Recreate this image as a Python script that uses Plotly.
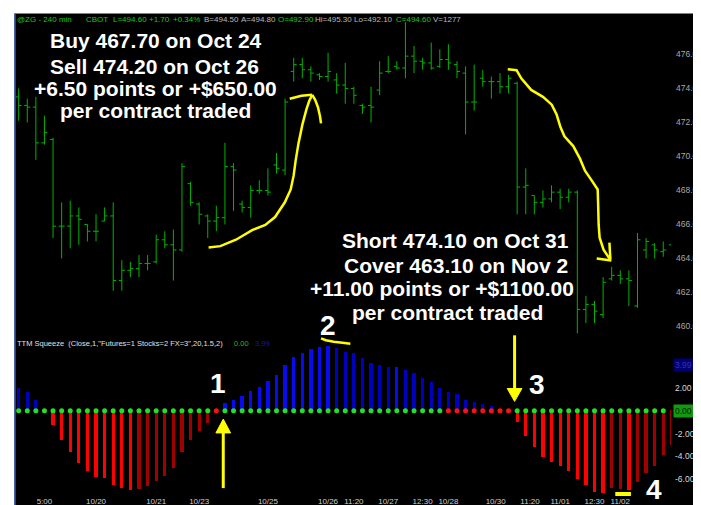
import plotly.graph_objects as go

# ---------------- data ----------------
BAR_INDEX = list(range(77))

OPEN = [473.5, 473.0, 472.9, 470.8, 471.0, 465.9, 465.9, 466.5, 466.0, 465.6,
        466.2, 466.5, 462.7, 463.3, 463.4, 463.7, 463.8, 465.1, 464.8, 464.5,
        468.4, 467.2, 466.5, 466.2, 466.4, 469.4, 467.2, 467.0, 468.0, 468.0,
        469.5, 469.2, 475.0, 475.4, 475.1, 474.8, 474.7, 474.5, 474.2, 474.0,
        473.0, 473.0, 473.9, 475.0, 475.3, 475.2, 475.9, 475.6, 475.5, 475.3,
        475.7, 475.4, 474.9, 473.2, 474.6, 474.4, 474.4, 474.1, 474.3, 468.2,
        467.7, 467.3, 467.5, 467.9, 467.6, 467.9, 461.0, 461.3, 460.7, 462.8,
        463.0, 462.8, 461.2, 464.5, 464.8, 464.4, 464.8]

HIGH = [474.0, 473.4, 473.5, 472.4, 471.1, 467.3, 467.4, 467.0, 466.0, 466.6,
        467.0, 467.3, 463.9, 463.8, 464.2, 464.2, 465.4, 465.6, 465.7, 469.6,
        468.5, 467.3, 466.6, 467.1, 470.8, 469.6, 467.4, 468.3, 468.6, 469.3,
        470.2, 473.4, 475.8, 475.8, 475.3, 474.9, 476.1, 474.9, 475.5, 474.1,
        473.1, 474.1, 475.6, 475.9, 475.6, 477.9, 476.5, 475.8, 476.7, 476.3,
        476.6, 475.6, 475.3, 475.4, 475.1, 474.7, 474.9, 474.8, 474.4, 469.3,
        467.7, 468.0, 468.3, 468.1, 468.1, 468.0, 461.8, 461.5, 462.9, 463.5,
        463.3, 463.3, 465.5, 465.2, 464.9, 465.0, 464.9]

LOW = [472.1, 472.0, 469.8, 470.7, 465.2, 464.0, 464.6, 464.8, 465.0, 465.0,
       466.2, 462.1, 462.1, 462.9, 462.9, 463.3, 463.7, 464.6, 462.7, 464.4,
       467.1, 466.0, 465.2, 465.6, 466.0, 466.8, 466.7, 466.4, 467.8, 467.7,
       469.0, 468.9, 474.4, 474.6, 474.4, 474.5, 474.4, 473.7, 473.1, 473.1,
       472.5, 472.0, 473.6, 474.9, 475.1, 474.6, 474.9, 475.1, 475.1, 475.2,
       475.1, 474.6, 471.3, 472.7, 474.1, 473.4, 473.7, 473.7, 466.6, 466.6,
       466.6, 467.0, 467.3, 466.9, 467.3, 459.6, 460.2, 460.2, 460.5, 462.7,
       462.5, 461.2, 461.1, 464.0, 464.0, 464.1, 464.7]

CLOSE = [473.0, 472.9, 470.8, 471.4, 465.9, 465.9, 466.5, 466.3, 465.6, 465.6,
         466.5, 462.7, 463.3, 463.4, 463.7, 463.7, 465.1, 464.8, 464.5, 469.4,
         467.3, 466.6, 466.2, 466.4, 469.4, 469.2, 467.0, 468.0, 468.0, 467.9,
         469.3, 473.2, 475.4, 475.1, 474.9, 474.7, 475.0, 474.2, 474.0, 473.6,
         472.9, 472.9, 474.9, 475.0, 475.2, 475.9, 475.6, 475.5, 475.2, 475.7,
         475.5, 475.0, 473.2, 473.2, 474.4, 474.4, 474.1, 474.6, 468.2, 468.3,
         467.3, 467.5, 467.9, 467.6, 467.9, 461.0, 461.3, 460.9, 462.6, 463.0,
         462.8, 462.7, 465.1, 465.0, 464.5, 464.5, 464.8]

MOMENTUM = [1.93, 1.65, 0.96, 0.0, -1.25, -2.55, -3.6, -4.6, -5.3, -5.8,
            -5.9, -6.5, -6.8, -7.0, -6.85, -6.65, -6.2, -5.7, -5.0, -3.6,
            -2.6, -1.8, -1.1, 0.0, 0.62, 0.96, 1.3, 1.73, 2.04, 2.58,
            3.06, 3.97, 4.65, 5.05, 5.36, 5.56, 5.67, 5.5, 5.1, 5.0,
            4.6, 4.14, 3.97, 3.8, 3.8, 3.55, 3.3, 2.84, 2.5, 2.0,
            1.6, 1.42, 0.9, 0.74, 0.57, 0.4, 0.15, 0.0, -1.0, -2.27,
            -3.2, -4.1, -4.5, -4.9, -5.3, -6.0, -6.5, -7.1, -7.25, -6.8,
            -6.9, -7.0, -6.3, -5.5, -4.85, -3.9, -3.0]

# U = rising blue, V = falling blue, R = falling red, D = rising red
MOMENTUM_SHADE = "VVVV" + "R" * 10 + "D" * 10 + "U" * 13 + "V" * 7 + "U" + "V" * 13 + "R" * 11 + "DD" + "R" + "D" * 5
# g = squeeze off (green dot), r = squeeze on (red dot)
SQUEEZE_DOT = "g" * 23 + "r" + "g" * 26 + "r" * 8 + "g" * 18

X_TICK_POS = [3, 9, 16, 21, 29, 36, 39, 43, 47, 50, 55.5, 59.5, 63, 67, 70]
X_TICK_TEXT = ["5:00", "10/20", "10/21", "10/23", "10/25", "10/26", "11:20", "10/27",
               "12:30", "10/28", "10/30", "11:20", "11/01", "12:30", "11/02"]
PRICE_TICKS = [460, 462, 464, 466, 468, 470, 472, 474, 476]
MOM_TICKS = [2, -2, -4, -6]

# ---------------- styling ----------------
FONT = "Liberation Sans, Arial, sans-serif"
SHADE_COLORS = {"U": "#0a0af0", "V": "#0000c0", "R": "#ff0000", "D": "#a00000"}
DOT_COLORS = {"g": "#22e022", "r": "#ff1010"}
W, H = 701, 505
PL, PR, PT, PB = 8, 678, 7, 494  # plot area in pixels


def px(x):
    return (x - PL) / (PR - PL)


def py(y):
    return (PB - y) / (PB - PT)


fig = go.Figure()

fig.add_trace(go.Ohlc(
    x=BAR_INDEX, open=OPEN, high=HIGH, low=LOW, close=CLOSE,
    increasing=dict(line=dict(color="#00b400", width=1)),
    decreasing=dict(line=dict(color="#00b400", width=1)),
    tickwidth=0.35, xaxis="x", yaxis="y", hoverinfo="skip"))

fig.add_trace(go.Bar(
    x=BAR_INDEX, y=MOMENTUM, width=0.38,
    marker=dict(color=[SHADE_COLORS[c] for c in MOMENTUM_SHADE], line=dict(width=0)),
    xaxis="x2", yaxis="y2", hoverinfo="skip"))

fig.add_trace(go.Scatter(
    x=BAR_INDEX[:len(SQUEEZE_DOT)], y=[0] * len(SQUEEZE_DOT), mode="markers",
    marker=dict(size=5, color=[DOT_COLORS[c] for c in SQUEEZE_DOT], line=dict(width=0)),
    xaxis="x2", yaxis="y2", hoverinfo="skip"))

XRANGE = [-0.31, 75.9]
fig.update_layout(
    width=W, height=H, showlegend=False,
    margin=dict(l=PL, r=W - PR, t=PT, b=H - PB, pad=0),
    paper_bgcolor="black", plot_bgcolor="black",
    font=dict(family=FONT),
    bargap=0,
    xaxis=dict(domain=[0, 1], range=XRANGE, anchor="y", showticklabels=False,
               showgrid=False, zeroline=False, showline=False,
               rangeslider=dict(visible=False)),
    xaxis2=dict(domain=[0, 1], range=XRANGE, anchor="y2", showgrid=False,
                zeroline=False, showline=False, ticks="",
                tickvals=X_TICK_POS, ticktext=X_TICK_TEXT,
                tickfont=dict(size=8, color="#d0d0d0", family=FONT)),
    yaxis=dict(domain=[py(333), 1], range=[459.42, 478.32], side="right",
               anchor="x", showgrid=False, zeroline=False, showline=False, ticks="",
               ticklabelstandoff=4,
               tickvals=PRICE_TICKS, ticktext=["%.2f" % v for v in PRICE_TICKS],
               tickfont=dict(size=8.5, color="#a8a8a8", family=FONT)),
    yaxis2=dict(domain=[0, py(335)], range=[-7.37, 6.34], side="right",
                anchor="x2", showgrid=False, zeroline=False, showline=False, ticks="",
                ticklabelstandoff=3,
                tickvals=MOM_TICKS, ticktext=["%.2f" % v for v in MOM_TICKS],
                tickfont=dict(size=8.5, color="#d8d8d8", family=FONT)),
)

ann = []


def text(t, x, y, size, color, anchor="left", bold=False, **kw):
    ann.append(dict(text=("<b>%s</b>" % t) if bold else t, x=px(x), y=py(y),
                    xref="paper", yref="paper", xanchor=anchor, yanchor="middle",
                    showarrow=False, font=dict(size=size, color=color, family=FONT), **kw))


GREEN_TXT, GRAY_TXT = "#19c819", "#b8b8b8"
for t, x, c in [("@ZG - 240 min", 7, GREEN_TXT), ("CBOT", 78, GREEN_TXT),
                ("L=494.60", 105, GREEN_TXT), ("+1.70", 142, GREEN_TXT),
                ("+0.34%", 167, GREEN_TXT), ("B=494.50", 198, GRAY_TXT),
                ("A=494.80", 236, GRAY_TXT), ("O=492.90", 274, GREEN_TXT),
                ("Hi=495.30", 312, GRAY_TXT), ("Lo=492.10", 352, GRAY_TXT),
                ("C=494.60", 395, GREEN_TXT), ("V=1277", 433, GRAY_TXT)]:
    text(t, x, 12, 8, c)

text('TTM Squeeze\u00a0\u00a0(Close,1,"Futures=1 Stocks=2 FX=3",20,1.5,2)', 7, 340, 7.5, "#e0e0e0")
text("0.00", 229, 340, 7.5, "#10c010")
text("3.99", 250, 340, 7.5, "#1818a0")

# right-hand value boxes
ann.append(dict(text="0.00", x=px(680), y=py(409), xref="paper", yref="paper",
                xanchor="left", yanchor="middle", showarrow=False, bgcolor="#109a10",
                borderpad=1, font=dict(size=8.5, color="#001800", family=FONT)))
ann.append(dict(text="3.99", x=px(680), y=py(362.5), xref="paper", yref="paper",
                xanchor="left", yanchor="middle", showarrow=False, bgcolor="#000070",
                borderpad=1, font=dict(size=8.5, color="#3030c0", family=FONT)))

# trade descriptions
for t, x, y in [("Buy 467.70 on Oct 24", 151, 33), ("Sell 474.20 on Oct 26", 150, 59),
                ("+6.50 points or +$650.00", 151, 82), ("per contract traded", 151, 104),
                ("Short 474.10 on Oct 31", 457.5, 235.5), ("Cover 463.10 on Nov 2", 458, 261),
                ("+11.00 points or +$1100.00", 444, 284.5), ("per contract traded", 449, 308.5)]:
    text(t, x, y, 21, "white", anchor="center", bold=True)

for t, x, y in [("1", 215, 381), ("2", 327, 322), ("3", 541, 382), ("4", 660.5, 488)]:
    text(t, x, y, 28, "white", anchor="center", bold=True)

fig.update_layout(annotations=ann)

# ---------------- hand drawn marks / frame ----------------
YEL = "#ffff00"


def path(points, closed=False):
    s = "M " + " L ".join("%.5f,%.5f" % (px(a), py(b)) for a, b in points)
    return s + (" Z" if closed else "")


strokes = [
    [(205, 243), (217, 241.5), (233, 235), (250, 225), (263, 220), (273, 212), (283, 197),
     (289, 184), (292, 170), (294, 155), (297, 137), (301, 118), (305, 103), (308, 94), (311, 88)],
    [(311, 88), (300, 89), (288, 92)],
    [(311, 88), (314, 93), (317, 101), (319, 110), (320, 117)],
    [(511, 62), (520, 63), (525, 71.5), (535, 83), (547, 90), (556, 98), (561, 108), (565, 121),
     (569, 130), (578, 140), (585, 153), (590, 165), (597, 175), (603, 184), (603.5, 200),
     (604, 220), (605, 233), (609, 245), (615, 254)],
    [(615, 238), (616, 255)],
    [(602, 254), (617, 256)],
    [(320, 335), (325, 337), (333, 338.5), (342, 339.5), (350, 340.5)],
]
shapes = []
for s in strokes:
    shapes.append(dict(type="path", xref="paper", yref="paper", path=path(s),
                       line=dict(color=YEL, width=2.5), layer="above"))
shapes.append(dict(type="path", xref="paper", yref="paper", path=path([(621, 493), (637, 493)]),
                   line=dict(color=YEL, width=4), layer="above"))
# arrows at points 1 and 3
for x, y_top, y_base, y_end in [(220, 417, 431, 487), (518, 399, 386, 332)]:
    shapes.append(dict(type="path", xref="paper", yref="paper",
                       path=path([(x, y_base), (x, y_end)]),
                       line=dict(color=YEL, width=3), layer="above"))
    shapes.append(dict(type="path", xref="paper", yref="paper",
                       path=path([(x, y_top), (x - 7.5, y_base), (x + 7.5, y_base)], closed=True),
                       fillcolor=YEL, line=dict(color=YEL, width=1), layer="above"))
# white frame strips and blue left edge
shapes.append(dict(type="rect", xref="paper", yref="paper", x0=px(-2), x1=px(6.5),
                   y0=py(507), y1=py(-2), fillcolor="white", line=dict(width=0), layer="above"))
shapes.append(dict(type="rect", xref="paper", yref="paper", x0=px(-2), x1=px(703),
                   y0=py(5.5), y1=py(-2), fillcolor="white", line=dict(width=0), layer="above"))
shapes.append(dict(type="line", xref="paper", yref="paper", x0=px(7), x1=px(7),
                   y0=py(506), y1=py(5.5), line=dict(color="#3355aa", width=1.5), layer="above"))
fig.update_layout(shapes=shapes)

fig.write_html("out.html")
